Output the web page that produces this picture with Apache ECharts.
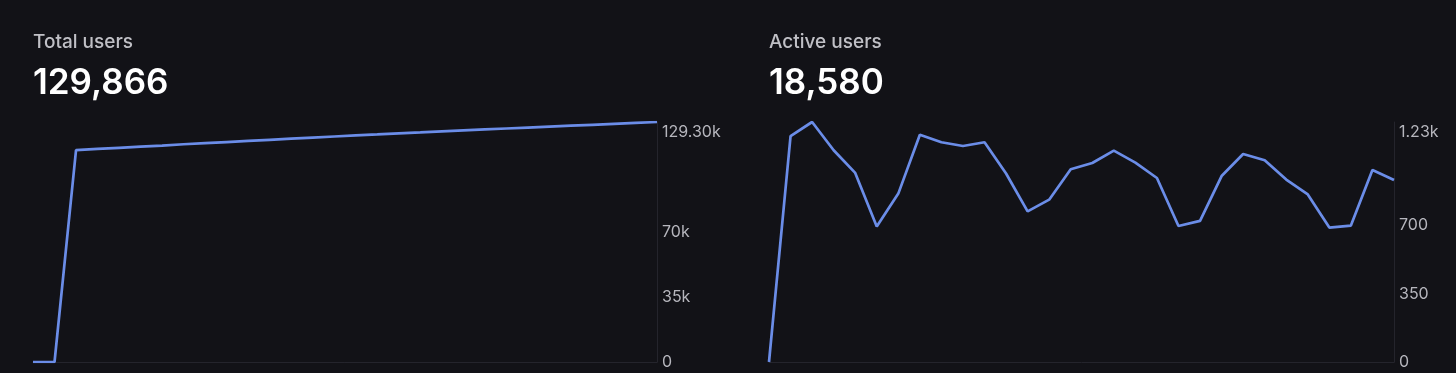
<!DOCTYPE html>
<html>
<head>
<meta charset="utf-8">
<script src="https://cdn.jsdelivr.net/npm/echarts@6/dist/echarts.min.js"></script>
<style>
html,body{margin:0;padding:0;background:#121217;}
#c{width:1456px;height:373px;}
</style>
</head>
<body>
<div id="c"></div>
<script>
// ---- data ----
var days = [];
for (var d = 1; d <= 30; d++) days.push('Day ' + d);

var totalUsers = [0, 0, 114100, 114800, 115400, 116000, 116600, 117300, 117900, 118500,
  119100, 119700, 120300, 120900, 121500, 122100, 122600, 123200, 123700, 124300,
  124800, 125300, 125800, 126300, 126800, 127300, 127800, 128300, 128800, 129300];

var activeUsers = [0, 1158, 1230, 1085, 969, 694, 863, 1165, 1126, 1107,
  1126, 966, 772, 832, 988, 1020, 1083, 1022, 943, 697,
  723, 953, 1066, 1034, 935, 859, 689, 699, 984, 933];

var leftTickValues = [0, 35000, 70000, 129300];
var leftTickLabels = ['0', '35k', '70k', '129.30k'];
var rightTickValues = [0, 350, 700, 1230];
var rightTickLabels = ['0', '350', '700', '1.23k'];

var panelTitles = ['Total users', 'Active users'];
var panelTotals = ['129,866', '18,580'];

// ---- chart ----
var FONT = 'Inter, "Noto Sans", sans-serif';
var LINE = '#6b8de8';
var LABEL = '#b6b6bd';

function labelFormatter(values, labels) {
  return function (v) {
    var i = values.indexOf(v);
    if (i < 0) return '';
    if (i === values.length - 1) return '{top|' + labels[i] + '}';
    return labels[i];
  };
}

function yAxisFor(gridIndex, max, interval, values, labels) {
  return {
    type: 'value', gridIndex: gridIndex, position: 'right',
    min: 0, max: max, interval: interval,
    axisLine: {show: true, lineStyle: {color: '#24242c', width: 1}},
    axisTick: {show: false},
    splitLine: {show: false},
    axisLabel: {
      margin: 5, color: LABEL, fontFamily: FONT, fontSize: 16,
      formatter: labelFormatter(values, labels),
      rich: {top: {padding: [20, 0, 0, 0], color: LABEL, fontFamily: FONT, fontSize: 16}}
    }
  };
}

function xAxisFor(gridIndex) {
  return {
    type: 'category', gridIndex: gridIndex, data: days, boundaryGap: false,
    axisLine: {show: true, lineStyle: {color: '#24242c', width: 1}},
    axisTick: {show: false}, axisLabel: {show: false}, splitLine: {show: false}
  };
}

function titleAt(text, left, top, size, weight, color) {
  return {text: text, left: left, top: top, padding: 0,
    textStyle: {color: color, fontFamily: FONT, fontSize: size, fontWeight: weight}};
}

var chart = echarts.init(document.getElementById('c'), null, {renderer: 'canvas'});
chart.setOption({
  backgroundColor: '#121217',
  animation: false,
  title: [
    titleAt(panelTitles[0], 33, 33, 19, 500, '#c0c0c6'),
    titleAt(panelTotals[0], 33, 66, 35, 600, '#ffffff'),
    titleAt(panelTitles[1], 769, 33, 19, 500, '#c0c0c6'),
    titleAt(panelTotals[1], 769, 66, 35, 600, '#ffffff')
  ],
  grid: [
    {left: 33, width: 624, top: 122, height: 240},
    {left: 769, width: 625, top: 122, height: 240}
  ],
  xAxis: [xAxisFor(0), xAxisFor(1)],
  yAxis: [
    yAxisFor(0, 129300, 35000, leftTickValues, leftTickLabels),
    yAxisFor(1, 1230, 350, rightTickValues, rightTickLabels)
  ],
  series: [
    {type: 'line', xAxisIndex: 0, yAxisIndex: 0, data: totalUsers, symbol: 'none',
      lineStyle: {color: LINE, width: 2.7}},
    {type: 'line', xAxisIndex: 1, yAxisIndex: 1, data: activeUsers, symbol: 'none',
      lineStyle: {color: LINE, width: 2.7}}
  ]
});
</script>
</body>
</html>
